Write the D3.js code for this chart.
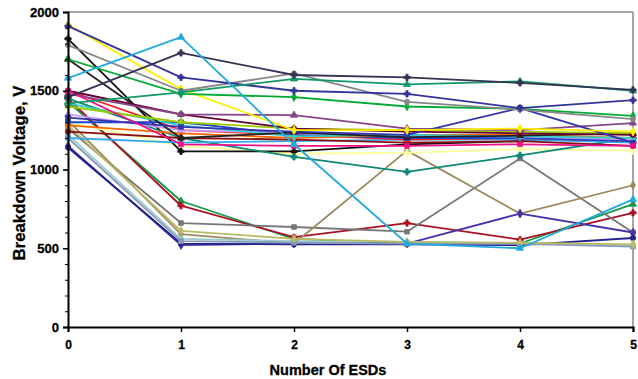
<!DOCTYPE html>
<html>
<head>
<meta charset="utf-8">
<script src="https://cdn.jsdelivr.net/npm/d3@7"></script>
<style>
  html, body { margin: 0; padding: 0; background: #fff; }
  svg { display: block; }
  text { font-family: "Liberation Sans", Arial, sans-serif; font-weight: bold; }
</style>
</head>
<body>
<svg id="chart" width="638" height="379"></svg>
<script>
// ---- data ----
const xValues = [0, 1, 2, 3, 4, 5];
const yTicks = [0, 500, 1000, 1500, 2000];
const xTicks = [0, 1, 2, 3, 4, 5];

// lower group
const sGreenLow   = [1430, 800, 560, 530, 530, 780];
const sRedX       = [1450, 770, 570, 660, 555, 725];
const sGraySq     = [1260, 660, 635, 605, 1070, 600];
const sTan        = [1310, 590, 530, 1120, 720, 900];
const sPaleTeal   = [1220, 560, 545, 540, 530, 520];
const sViolet     = [1150, 520, 530, 530, 720, 600];
const sNavyCirc   = [1140, 530, 525, 525, 520, 565];
const sGrayBlue   = [1200, 545, 535, 530, 528, 510];
const sOliveLow   = [1280, 610, 560, 540, 535, 525];

// upper group
const sPaleYellow = [1300, 1150, 1100, 1105, 1130, 1120];
const sBlack1     = [1830, 1115, 1115, 1160, 1180, 1200];
const sTeal       = [1450, 1200, 1080, 985, 1090, 1200];
const sLightBlue  = [1200, 1170, 1180, 1190, 1190, 1170];
const sDarkRed    = [1240, 1200, 1190, 1170, 1180, 1150];
const sRed        = [1500, 1250, 1220, 1190, 1200, 1180];
const sBlue       = [1300, 1300, 1220, 1200, 1200, 1180];
const sOrange     = [1280, 1230, 1200, 1220, 1220, 1200];
const sLavender   = [1350, 1250, 1230, 1215, 1210, 1190];
const sTurq       = [1420, 1280, 1210, 1220, 1210, 1200];
const sBlack2     = [1700, 1200, 1235, 1205, 1215, 1230];
const sLime       = [1400, 1300, 1260, 1250, 1240, 1230];
const sMaroon     = [1500, 1350, 1260, 1240, 1230, 1220];
const sPurple     = [1480, 1350, 1345, 1260, 1250, 1295];
const sNavy2      = [1330, 1270, 1240, 1220, 1390, 1170];
const sMagenta    = [1500, 1160, 1150, 1150, 1160, 1150];
const sYellow     = [1920, 1510, 1250, 1250, 1260, 1240];
const sGreen      = [1700, 1480, 1460, 1400, 1385, 1340];
const sGray       = [1790, 1500, 1610, 1430, 1380, 1320];
const sNavyX      = [1910, 1585, 1500, 1480, 1390, 1440];
const sTealGreen  = [1420, 1490, 1575, 1540, 1560, 1500];
const sSlate      = [1460, 1740, 1600, 1585, 1550, 1505];
const sCyan       = [1580, 1840, 1160, 530, 500, 810];

const series = [
  sGreenLow, sRedX, sGraySq, sTan, sPaleTeal, sViolet, sNavyCirc, sGrayBlue, sOliveLow,
  sPaleYellow, sBlack1, sTeal, sLightBlue, sDarkRed, sRed, sBlue, sOrange,
  sLavender, sTurq, sBlack2, sLime, sMaroon, sPurple, sNavy2, sMagenta, sYellow, sGreen, sGray,
  sNavyX, sTealGreen, sSlate, sCyan
];

// ---- styles ----
const colors = [
  "#119944", "#aa1122", "#777777", "#9c8a5e", "#99cccc", "#4433aa", "#222288", "#8899bb", "#bbbb66",
  "#ffff99", "#111111", "#118877", "#33aaee", "#881111", "#ee2222", "#2244cc", "#ff6600",
  "#cc99ff", "#33cccc", "#222222", "#99cc00", "#660033", "#884488", "#3333aa", "#ee1188", "#ffee00", "#00aa33",
  "#888888", "#333399", "#119966", "#333355", "#22aadd"
];
const markerTypes = [
  d3.symbolTriangle, d3.symbolCross, d3.symbolSquare, d3.symbolDiamond, d3.symbolCircle, d3.symbolDiamond,
  d3.symbolCircle, d3.symbolSquare, d3.symbolDiamond, d3.symbolDiamond, d3.symbolCross, d3.symbolCross,
  d3.symbolDiamond, d3.symbolCircle, d3.symbolTriangle, d3.symbolSquare, d3.symbolDiamond,
  d3.symbolTriangle, d3.symbolDiamond, d3.symbolTriangle, d3.symbolDiamond, d3.symbolCircle, d3.symbolTriangle,
  d3.symbolSquare, d3.symbolSquare, d3.symbolDiamond, d3.symbolDiamond, d3.symbolCircle, d3.symbolCross, d3.symbolTriangle,
  d3.symbolCross, d3.symbolTriangle
];

const svg = d3.select("#chart");
const mLeft = 68, mRight = 633, mTop = 12, mBottom = 327;

const x = d3.scaleLinear().domain([0, 5]).range([mLeft, mRight]);
const y = d3.scaleLinear().domain([0, 2000]).range([mBottom, mTop]);

// plot frame (top & right gray)
svg.append("line").attr("x1", mLeft).attr("x2", mRight).attr("y1", mTop).attr("y2", mTop)
  .attr("stroke", "#888").attr("stroke-width", 1.5);
svg.append("line").attr("x1", mRight).attr("x2", mRight).attr("y1", mTop).attr("y2", mBottom)
  .attr("stroke", "#888").attr("stroke-width", 1.5);

const line = d3.line().x((d, i) => x(xValues[i])).y(d => y(d));

const g = svg.append("g");
series.forEach((vals, si) => {
  g.append("path").datum(vals)
    .attr("d", line)
    .attr("fill", "none")
    .attr("stroke", colors[si])
    .attr("stroke-width", 1.8)
    .attr("stroke-linejoin", "round");
  g.selectAll(null).data(vals).enter().append("path")
    .attr("transform", (d, i) => `translate(${x(xValues[i])},${y(d)})`)
    .attr("d", d3.symbol().type(markerTypes[si]).size(22))
    .attr("fill", colors[si])
    .attr("stroke", colors[si])
    .attr("stroke-width", 0.8);
});

// y axis
const yAxis = d3.axisLeft(y).tickValues(yTicks).tickSize(5).tickPadding(4).tickFormat(d3.format("d"));
const yg = svg.append("g").attr("transform", `translate(${mLeft},0)`).call(yAxis);
const yMinor = d3.axisLeft(y).tickValues(d3.range(0, 2001, 100)).tickSize(3).tickFormat("");
svg.append("g").attr("transform", `translate(${mLeft},0)`).call(yMinor)
  .call(g2 => g2.select(".domain").remove());
yg.select(".domain").attr("stroke", "#000").attr("stroke-width", 2);
yg.selectAll(".tick line").attr("stroke", "#000").attr("stroke-width", 1.5);
yg.selectAll("text").attr("font-size", 13).attr("font-weight", "bold")
  .attr("font-family", "Liberation Sans, Arial, sans-serif").attr("fill", "#000")
  .attr("stroke", "#000").attr("stroke-width", 0.3);

// x axis
const xAxis = d3.axisBottom(x).tickValues(xTicks).tickSize(5).tickPadding(8).tickFormat(d3.format("d"));
const xg = svg.append("g").attr("transform", `translate(0,${mBottom})`).call(xAxis);
xg.select(".domain").attr("stroke", "#000").attr("stroke-width", 2);
xg.selectAll(".tick line").attr("stroke", "#000").attr("stroke-width", 1.5);
xg.selectAll("text").attr("font-size", 12).attr("font-weight", "bold")
  .attr("font-family", "Liberation Sans, Arial, sans-serif").attr("fill", "#000")
  .attr("stroke", "#000").attr("stroke-width", 0.3);

// titles
svg.append("text").attr("x", 328).attr("y", 375).attr("text-anchor", "middle")
  .attr("font-size", 14.5).attr("fill", "#000").attr("stroke", "#000").attr("stroke-width", 0.3)
  .text("Number Of ESDs");
svg.append("text").attr("transform", "translate(25,173) rotate(-90)").attr("text-anchor", "middle")
  .attr("font-size", 16.8).attr("fill", "#000").attr("stroke", "#000").attr("stroke-width", 0.3)
  .text("Breakdown Voltage, V");
</script>
</body>
</html>
